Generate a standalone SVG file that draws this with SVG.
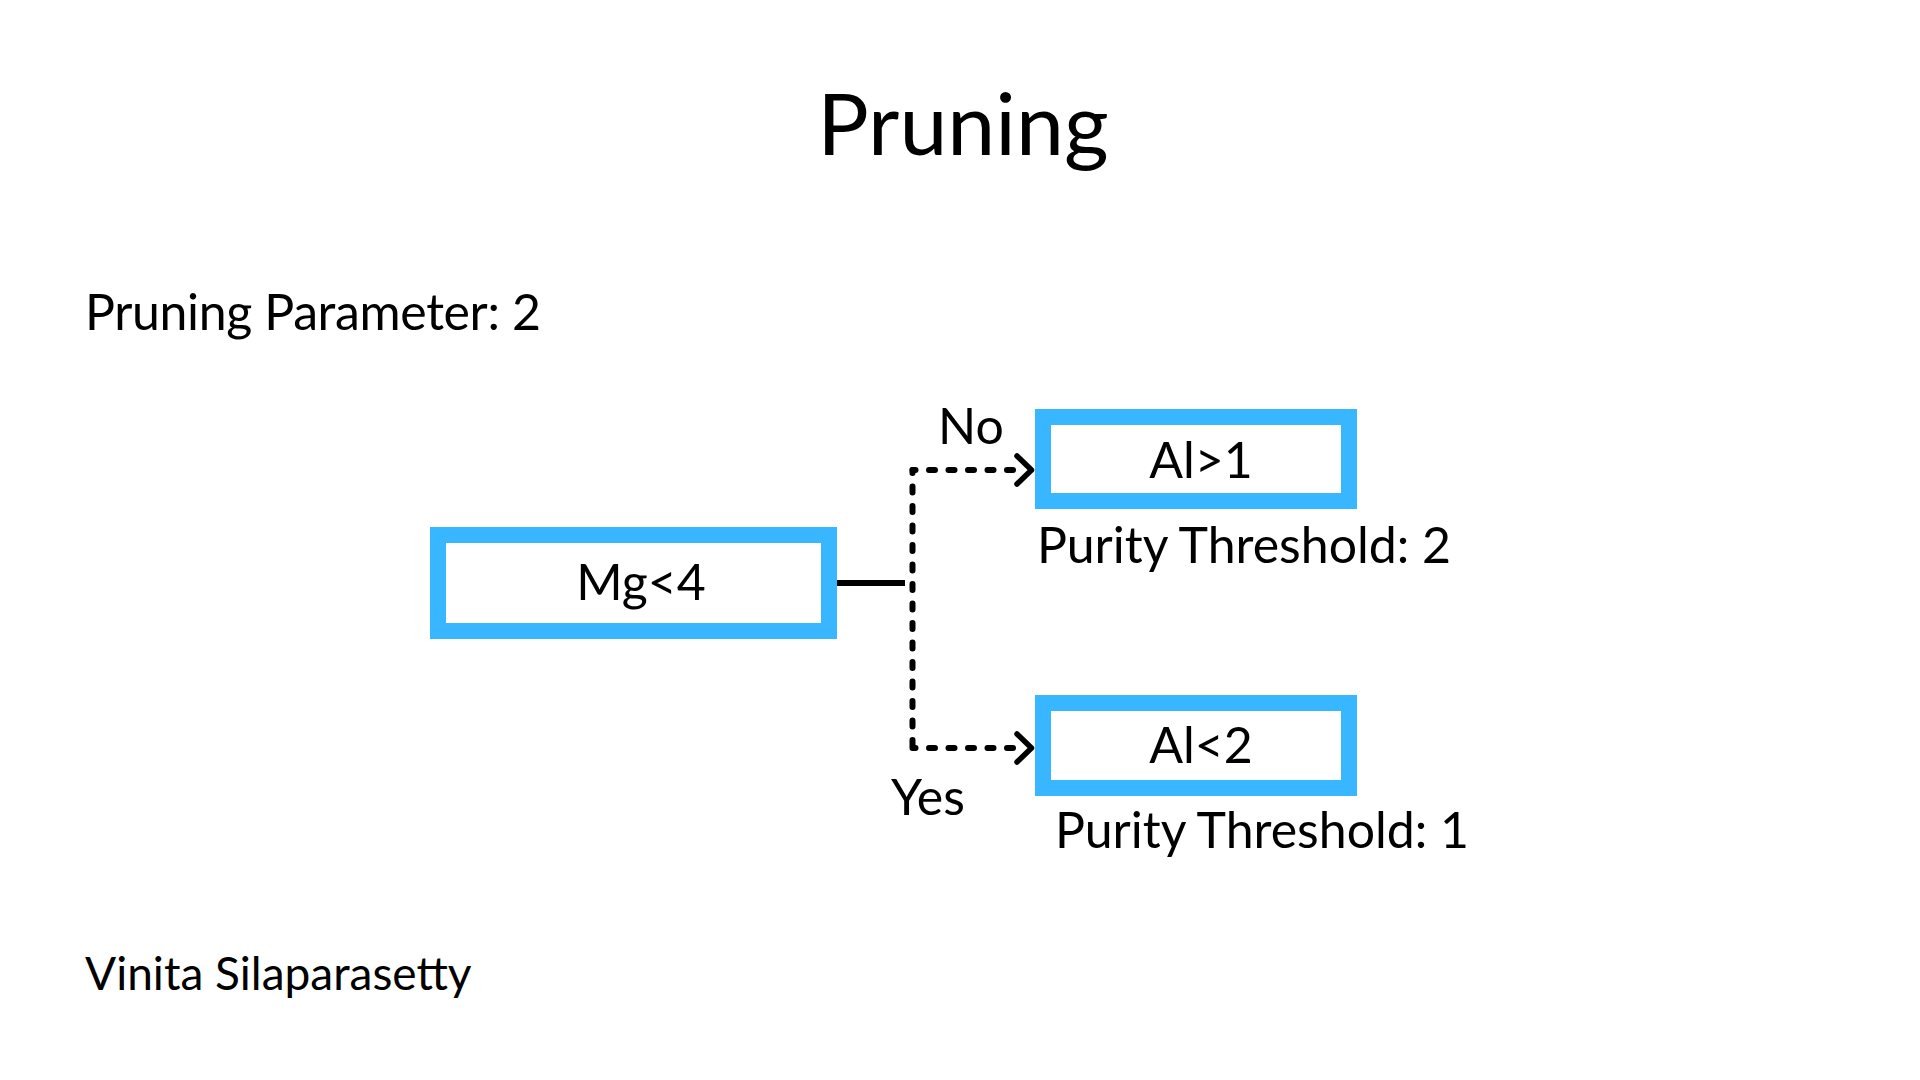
<svg xmlns="http://www.w3.org/2000/svg" width="1920" height="1080" viewBox="0 0 1920 1080">
  <style>
    text { font-family: Lato, "Open Sans", "Liberation Sans", sans-serif; fill: #000000; }
    .title { font-size: 86px; }
    .label { font-size: 50px; }
    .node-label { font-size: 50px; text-anchor: middle; }
    .box { fill: #ffffff; stroke: #38B6FF; stroke-width: 16; }
    .solid { stroke: #000000; stroke-width: 6; fill: none; }
    .dotted { stroke: #000000; stroke-width: 6; fill: none; stroke-linecap: round; stroke-dasharray: 6 13.5; stroke-dashoffset: 3; }
    .chev { stroke: #000000; stroke-width: 5.5; fill: none; stroke-linecap: round; stroke-linejoin: round; }
  </style>
  <defs>
    <marker id="chevron" markerUnits="userSpaceOnUse" markerWidth="40" markerHeight="40" refX="0" refY="0" orient="auto" overflow="visible">
      <polyline class="chev" points="-3,-14 11.5,0 -3,14"/>
    </marker>
  </defs>
  <rect width="1920" height="1080" fill="#ffffff"/>

  <text class="title" x="963" y="155" text-anchor="middle">Pruning</text>
  <text x="85" y="330" style="font-size:50px" textLength="456">Pruning Parameter: 2</text>
  <text x="85" y="990" style="font-size:46px">Vinita Silaparasetty</text>

  <g id="connectors">
    <line class="solid" x1="837" y1="583" x2="905" y2="583"/>
    <line class="dotted" x1="912.5" y1="470" x2="912.5" y2="748"/>
    <line class="dotted" x1="912.5" y1="470" x2="1020" y2="470" marker-end="url(#chevron)"/>
    <line class="dotted" x1="912.5" y1="748" x2="1020" y2="748" marker-end="url(#chevron)"/>
    <text class="node-label" x="971" y="444">No</text>
    <text class="node-label" x="928" y="815">Yes</text>
  </g>

  <g id="node-mg">
    <rect class="box" x="438" y="535" width="391" height="96"/>
    <text class="node-label" x="641" y="600">Mg&lt;4</text>
  </g>

  <g id="node-al-gt-1">
    <rect class="box" x="1043" y="417" width="306" height="84"/>
    <text class="node-label" x="1201" y="478">Al&gt;1</text>
    <text class="label" x="1244" y="563" text-anchor="middle">Purity Threshold: 2</text>
  </g>

  <g id="node-al-lt-2">
    <rect class="box" x="1043" y="703" width="306" height="85"/>
    <text class="node-label" x="1201" y="763">Al&lt;2</text>
    <text class="label" x="1262" y="848" text-anchor="middle">Purity Threshold: 1</text>
  </g>
</svg>
